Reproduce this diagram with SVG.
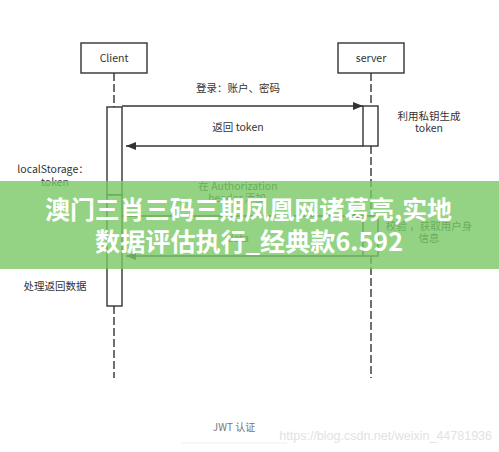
<svg xmlns="http://www.w3.org/2000/svg" width="499" height="452" viewBox="0 0 499 452">
<style>
.box{fill:#fff;stroke:#333;stroke-width:1.4}
.act{fill:#fff;stroke:#333;stroke-width:1.4}
.life{stroke:#333;stroke-width:1.4;stroke-dasharray:8 3;fill:none}
.msg{stroke:#333;stroke-width:1.4;fill:none}
.t{font-family:"Noto Sans CJK SC","Noto Sans",sans-serif;font-size:10.5px;fill:#333;text-anchor:middle}
.ban{font-family:"Noto Sans CJK SC",sans-serif;font-size:25px;font-weight:bold;fill:#fff;text-anchor:middle}
</style>
<defs>
<marker id="ah" viewBox="0 0 10 8" refX="10" refY="4" markerWidth="10" markerHeight="8" markerUnits="userSpaceOnUse" orient="auto">
<path d="M0,0 L10,4 L0,8 Z" fill="#333"/>
</marker>
</defs>
<rect width="499" height="452" fill="#fff"/>
<g id="connectors">
<line class="life" x1="114" y1="73" x2="114" y2="107"/>
<line class="life" x1="114" y1="306" x2="114" y2="378"/>
<line class="life" x1="371" y1="73" x2="371" y2="106"/>
<line class="life" x1="371" y1="146" x2="371" y2="216"/>
<line class="life" x1="371" y1="256" x2="371" y2="378"/>
<line class="msg" x1="122" y1="106" x2="363" y2="106" marker-end="url(#ah)"/>
<line class="msg" x1="363" y1="146" x2="126" y2="146" marker-end="url(#ah)"/>
<line class="msg" x1="122" y1="216" x2="363" y2="216" marker-end="url(#ah)"/>
<line class="msg" x1="363" y1="256" x2="126" y2="256" marker-end="url(#ah)"/>
<text class="t" x="238" y="92">登录：账户、密码</text>
<text class="t" x="238" y="131">返回 token</text>
<text class="t" x="238" y="190">在 Authorization</text>
<text class="t" x="237" y="202">header 添加</text>
<text class="t" x="238" y="242">data</text>
</g>
<g id="client">
<rect class="box" x="81" y="43" width="66" height="30"/>
<text class="t" x="114" y="62" font-size="11">Client</text>
</g>
<g id="server">
<rect class="box" x="338" y="43" width="66" height="30"/>
<text class="t" x="371" y="62" font-size="11">server</text>
</g>
<g id="client-act1">
<rect class="act" x="107" y="107" width="15" height="88"/>
</g>
<g id="client-act2">
<rect class="act" x="107" y="195" width="15" height="111"/>
</g>
<g id="server-act1">
<rect class="act" x="363" y="106" width="15" height="40"/>
</g>
<g id="server-act2">
<rect class="act" x="363" y="216" width="15" height="40"/>
</g>
<g id="notes">
<text class="t" x="429" y="120">利用私钥生成</text>
<text class="t" x="429" y="132">token</text>
<text class="t" x="53" y="173">localStorage：</text>
<text class="t" x="55" y="186">token</text>
<text class="t" x="429" y="230">校验 ，获取用户身</text>
<text class="t" x="429" y="242">信息</text>
<text class="t" x="55" y="290">处理返回数据</text>
</g>
<g id="banner">
<rect x="0" y="181" width="499" height="88" fill="rgb(120,200,100)" fill-opacity="0.8"/>
<text class="ban" x="248.5" y="219" textLength="407" lengthAdjust="spacingAndGlyphs">澳门三肖三码三期凤凰网诸葛亮,实地</text>
<text class="ban" x="249" y="251" textLength="308" lengthAdjust="spacingAndGlyphs">数据评估执行_经典款6.592</text>
</g>
<g id="footer">
<text x="234" y="431" font-family="'Noto Sans CJK SC',sans-serif" font-size="10" fill="#777" text-anchor="middle">JWT 认证</text>
<line x1="182" y1="443" x2="287" y2="443" stroke="#eee" stroke-width="1"/>
<text x="492" y="440" font-family="'Liberation Sans',sans-serif" font-size="12.5" fill="#e2e2e2" text-anchor="end">https://blog.csdn.net/weixin_44781936</text>
</g>
</svg>
